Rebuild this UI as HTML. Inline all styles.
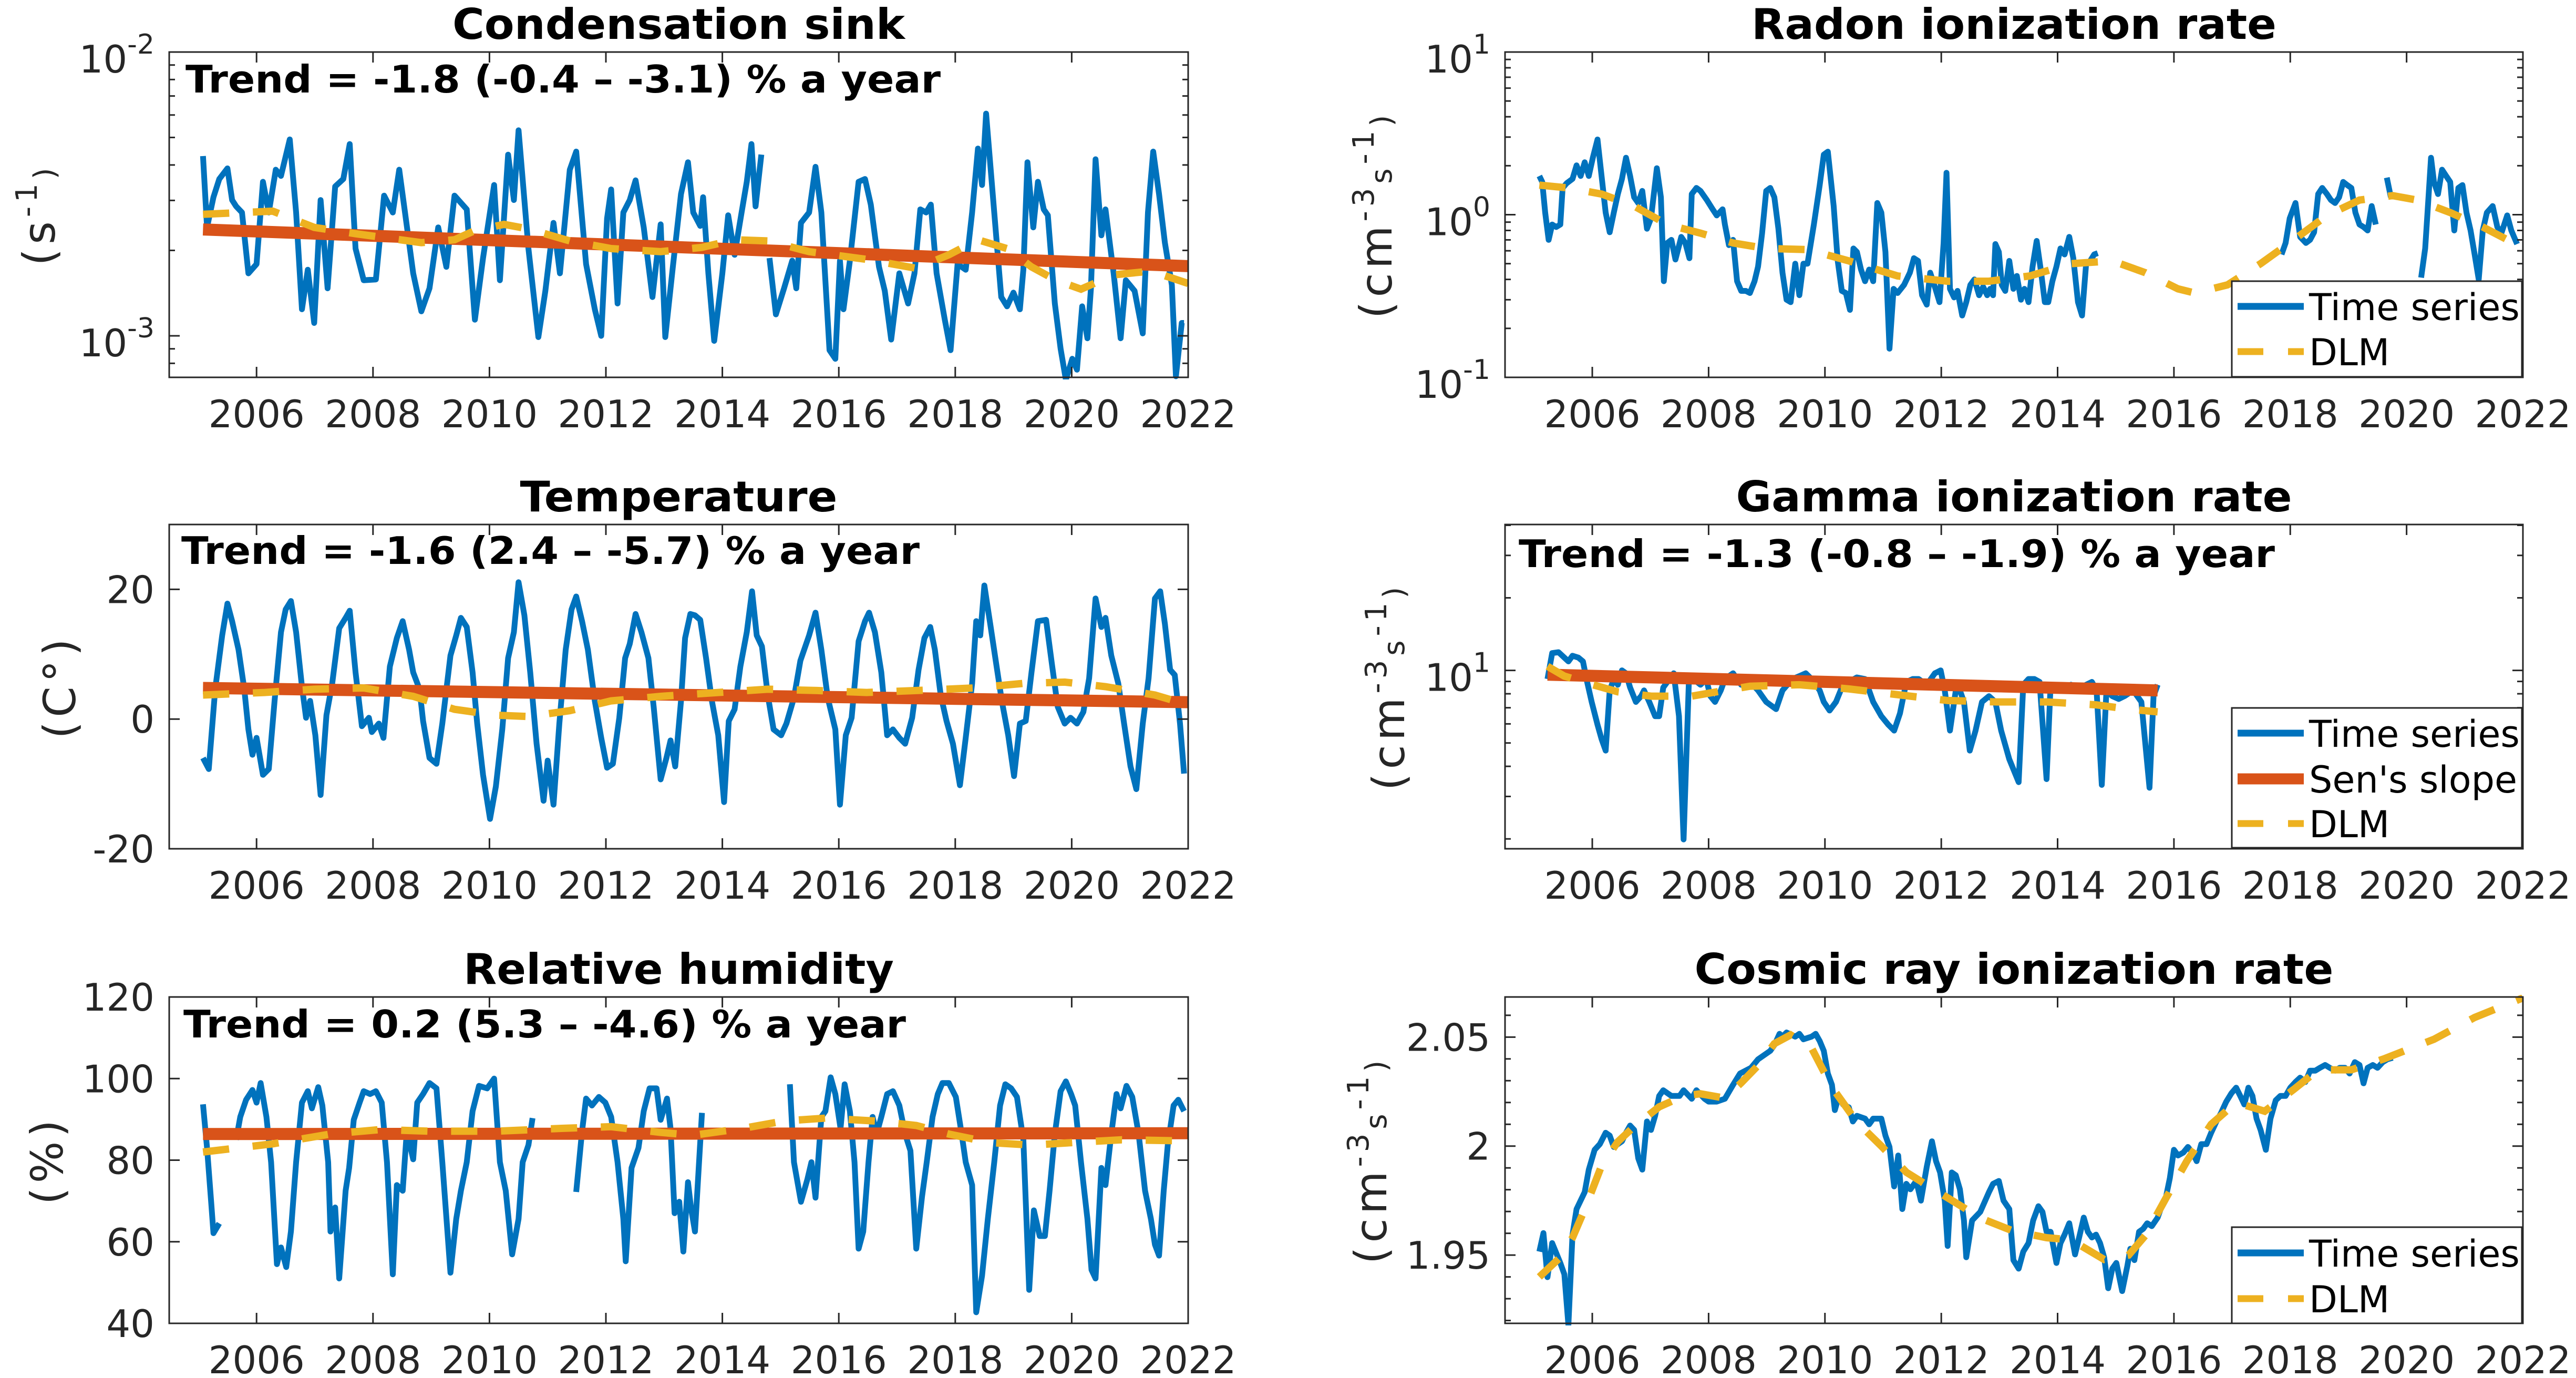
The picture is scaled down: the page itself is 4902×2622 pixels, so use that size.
<!DOCTYPE html>
<html><head><meta charset="utf-8"><style>
html,body{margin:0;padding:0;background:#fff;}
svg{display:block;}
</style></head><body>
<svg id="fig" xmlns="http://www.w3.org/2000/svg" width="4902" height="2622" viewBox="0 0 4902 2622">
<rect x="0" y="0" width="4902" height="2622" fill="#fff"/>
</svg>
<script>
// ---------------- DATA ----------------
const xTickYears = [2006,2008,2010,2012,2014,2016,2018,2020,2022];

// Condensation sink (values in units of 1e-3 s^-1)
const csYears = [2005.08,2005.15,2005.26,2005.36,2005.50,2005.58,2005.65,2005.75,2005.86,2006.00,2006.11,2006.21,2006.33,2006.42,2006.57,2006.68,2006.78,2006.88,2006.99,2007.10,2007.22,2007.35,2007.49,2007.60,2007.70,2007.84,2008.05,2008.19,2008.34,2008.45,2008.55,2008.69,2008.83,2008.97,2009.12,2009.26,2009.40,2009.61,2009.75,2009.89,2010.08,2010.18,2010.32,2010.42,2010.50,2010.67,2010.84,2010.96,2011.10,2011.21,2011.38,2011.49,2011.66,2011.81,2011.92,2012.02,2012.09,2012.20,2012.30,2012.41,2012.51,2012.65,2012.80,2012.94,2013.02,2013.15,2013.29,2013.41,2013.50,2013.62,2013.67,2013.76,2013.86,2014.00,2014.10,2014.21,2014.33,2014.42,2014.50,2014.57,2014.67,2014.74,2014.81,2014.92,2015.06,2015.20,2015.27,2015.35,2015.49,2015.60,2015.70,2015.84,2015.94,2016.02,2016.08,2016.19,2016.34,2016.45,2016.55,2016.69,2016.79,2016.90,2017.04,2017.19,2017.30,2017.40,2017.50,2017.58,2017.68,2017.82,2017.92,2018.04,2018.18,2018.29,2018.39,2018.46,2018.53,2018.67,2018.79,2018.89,2019.00,2019.11,2019.17,2019.24,2019.34,2019.42,2019.52,2019.59,2019.71,2019.81,2019.90,2020.01,2020.09,2020.18,2020.27,2020.33,2020.41,2020.51,2020.58,2020.72,2020.84,2020.93,2021.08,2021.22,2021.31,2021.40,2021.50,2021.60,2021.72,2021.79,2021.89,2021.93];
const csValues = [4.30,2.41,3.08,3.57,3.89,3.01,2.86,2.72,1.66,1.79,3.49,2.72,3.85,3.66,4.92,2.72,1.24,1.71,1.11,3.01,1.47,3.36,3.57,4.74,2.03,1.57,1.58,3.12,2.72,3.85,2.72,1.66,1.22,1.47,2.41,1.75,3.12,2.79,1.14,1.88,3.40,1.57,4.35,3.01,5.30,2.03,0.99,1.44,2.50,1.66,3.85,4.46,1.79,1.24,1.00,2.59,3.28,1.30,2.72,3.01,3.53,2.41,1.37,2.47,0.99,1.75,3.16,4.09,2.72,2.44,3.08,1.66,0.96,1.66,2.66,1.93,2.72,3.49,4.74,2.86,4.35,null,1.88,1.19,1.47,1.84,1.47,2.50,2.72,3.94,2.72,0.89,0.83,1.84,1.24,1.84,3.49,3.57,2.90,1.75,1.44,0.97,1.66,1.30,1.66,2.79,2.72,2.90,1.66,1.14,0.89,1.79,1.71,2.72,4.57,3.40,6.07,2.72,1.37,1.27,1.42,1.24,1.71,4.09,2.41,3.49,2.79,2.66,1.30,0.90,0.70,0.83,0.76,1.27,0.98,1.47,4.19,2.26,2.79,1.66,0.98,1.57,1.44,1.02,2.72,4.46,3.16,2.13,1.51,0.72,1.11,1.11];
const csSenYears = [2005.08,2022.0];
const csSenValues = [2.37,1.76];
const csDlmYears = [2005.08,2006.28,2006.99,2007.70,2008.83,2009.40,2009.75,2010.25,2010.67,2011.38,2012.09,2012.94,2013.65,2014.21,2014.78,2015.49,2016.48,2017.33,2017.89,2018.39,2018.89,2019.31,2019.73,2020.16,2020.72,2021.36,2022.0];
const csDlmValues = [2.68,2.75,2.41,2.29,2.13,2.18,2.35,2.47,2.38,2.16,2.03,1.98,2.05,2.18,2.16,1.98,1.86,1.73,1.93,2.18,2.03,1.75,1.57,1.46,1.64,1.69,1.53];

// Temperature (C)
const tYears = [2005.08,2005.18,2005.29,2005.41,2005.50,2005.58,2005.69,2005.79,2005.86,2005.93,2006.00,2006.11,2006.21,2006.31,2006.42,2006.50,2006.59,2006.68,2006.78,2006.85,2006.92,2007.01,2007.10,2007.20,2007.30,2007.42,2007.53,2007.60,2007.70,2007.81,2007.93,2007.98,2008.10,2008.18,2008.29,2008.41,2008.51,2008.62,2008.69,2008.80,2008.86,2008.97,2009.09,2009.19,2009.33,2009.43,2009.51,2009.61,2009.71,2009.79,2009.89,2010.01,2010.11,2010.22,2010.32,2010.42,2010.50,2010.60,2010.70,2010.81,2010.93,2011.00,2011.10,2011.20,2011.31,2011.41,2011.49,2011.59,2011.69,2011.81,2011.92,2012.02,2012.12,2012.23,2012.33,2012.41,2012.51,2012.61,2012.73,2012.82,2012.94,2013.04,2013.11,2013.19,2013.29,2013.36,2013.45,2013.53,2013.62,2013.72,2013.82,2013.93,2014.03,2014.11,2014.21,2014.31,2014.42,2014.51,2014.59,2014.68,2014.78,2014.88,2015.01,2015.10,2015.23,2015.34,2015.49,2015.60,2015.70,2015.81,2015.94,2016.02,2016.12,2016.22,2016.34,2016.45,2016.52,2016.62,2016.73,2016.83,2016.93,2017.04,2017.14,2017.26,2017.37,2017.47,2017.57,2017.65,2017.75,2017.85,2017.96,2018.08,2018.18,2018.29,2018.36,2018.43,2018.50,2018.60,2018.71,2018.80,2018.91,2019.01,2019.11,2019.21,2019.31,2019.42,2019.56,2019.66,2019.76,2019.88,2019.98,2020.09,2020.20,2020.30,2020.41,2020.51,2020.58,2020.68,2020.80,2020.90,2021.01,2021.11,2021.22,2021.32,2021.43,2021.52,2021.60,2021.69,2021.77,2021.86,2021.93];
const tValues = [-6.0,-7.7,4.6,12.9,17.8,15.1,10.7,4.6,-1.6,-5.5,-2.9,-8.6,-7.7,2.8,13.4,16.9,18.2,13.4,5.0,0.2,2.8,-2.5,-11.7,0.6,5.5,14.0,15.6,16.7,7.2,-1.1,0.2,-2.0,-0.7,-2.9,8.1,12.5,15.1,10.7,7.2,4.6,-0.3,-6.0,-6.9,-0.7,9.8,12.9,15.6,14.2,7.2,-0.7,-8.6,-15.4,-10.4,-1.6,9.4,13.4,21.1,16.0,7.2,-3.8,-12.6,-6.4,-13.2,-0.7,10.7,16.9,18.9,15.1,10.7,2.8,-2.9,-7.5,-6.9,0.2,9.4,11.6,16.2,13.4,9.4,1.9,-9.3,-6.0,-3.3,-7.3,2.8,12.5,16.2,16.0,15.3,9.4,2.8,-2.5,-12.8,-0.3,1.5,8.1,13.4,19.7,12.9,11.2,3.7,-1.6,-2.5,-0.7,3.3,9.0,12.9,16.4,10.7,3.3,-1.6,-13.2,-2.5,0.2,12.0,15.1,16.4,13.4,7.2,-2.5,-1.6,-2.9,-3.8,0.2,7.6,12.5,14.2,10.7,3.7,-0.3,-3.8,-10.2,-2.9,5.5,15.1,12.9,20.6,14.7,8.1,2.8,-2.5,-8.8,-0.7,-0.3,7.2,15.1,15.3,8.5,1.9,-0.7,0.2,-0.7,1.1,6.3,18.6,14.2,15.6,9.8,5.5,-0.7,-7.3,-10.8,-0.7,6.3,18.6,19.7,14.7,7.6,6.8,-0.7,-8.4];
const tSenYears = [2005.08,2022.0];
const tSenValues = [4.8,2.6];
const tDlmYears = [2005.08,2006.14,2006.99,2007.84,2008.69,2009.40,2010.11,2010.67,2011.38,2012.09,2012.94,2013.93,2014.78,2015.63,2016.48,2017.33,2018.32,2019.17,2019.88,2020.58,2021.43,2022.0];
const tDlmValues = [3.7,4.1,4.6,4.8,3.5,1.5,0.6,0.4,1.3,2.8,3.5,4.1,4.6,4.4,4.1,4.4,4.8,5.5,5.7,5.0,3.7,2.2];

// Relative humidity (%)
const rhYears = [2005.08,2005.15,2005.22,2005.26,2005.36,2005.50,2005.65,2005.72,2005.82,2005.93,2006.00,2006.07,2006.17,2006.25,2006.35,2006.42,2006.51,2006.59,2006.68,2006.78,2006.88,2006.95,2007.06,2007.13,2007.23,2007.27,2007.35,2007.42,2007.53,2007.59,2007.67,2007.77,2007.84,2007.95,2008.05,2008.15,2008.24,2008.34,2008.41,2008.51,2008.58,2008.69,2008.76,2008.86,2008.97,2009.09,2009.19,2009.33,2009.43,2009.51,2009.61,2009.71,2009.82,2009.96,2010.08,2010.18,2010.28,2010.39,2010.50,2010.57,2010.67,2010.74,2011.10,2011.49,2011.59,2011.66,2011.76,2011.88,2011.99,2012.09,2012.20,2012.30,2012.34,2012.44,2012.56,2012.65,2012.75,2012.87,2012.94,2013.05,2013.11,2013.18,2013.26,2013.33,2013.41,2013.46,2013.53,2013.65,2014.40,2015.16,2015.23,2015.35,2015.46,2015.53,2015.60,2015.70,2015.77,2015.86,2015.94,2016.03,2016.10,2016.19,2016.27,2016.34,2016.42,2016.51,2016.58,2016.65,2016.73,2016.83,2016.93,2017.04,2017.14,2017.23,2017.33,2017.43,2017.51,2017.61,2017.70,2017.78,2017.89,2018.01,2018.11,2018.18,2018.29,2018.36,2018.46,2018.56,2018.67,2018.77,2018.86,2018.96,2019.06,2019.17,2019.27,2019.35,2019.45,2019.54,2019.62,2019.71,2019.81,2019.90,2019.99,2020.06,2020.16,2020.27,2020.34,2020.41,2020.51,2020.58,2020.68,2020.77,2020.84,2020.94,2021.04,2021.15,2021.26,2021.36,2021.43,2021.50,2021.58,2021.65,2021.75,2021.83,2021.93];
const rhValues = [93.7,83.0,69.8,62.1,64.5,null,85.0,90.6,94.8,97.2,94.1,98.9,90.6,79.5,54.5,58.6,53.8,62.5,79.5,94.1,96.9,92.7,97.9,93.4,79.5,62.5,68.4,51.0,72.5,78.1,89.9,94.1,96.9,96.2,96.9,94.1,79.5,52.0,73.9,72.5,87.1,80.2,94.1,96.2,98.9,97.6,79.5,52.4,65.6,72.5,79.5,92.0,98.2,97.6,100.0,79.5,72.5,56.9,65.6,79.5,83.7,90.3,null,72.2,87.1,95.1,93.4,95.5,94.1,90.6,79.5,65.6,55.2,78.1,83.0,92.0,97.6,97.6,89.9,95.1,87.8,67.0,69.8,57.6,74.6,68.4,62.5,91.6,null,98.6,79.5,69.8,75.3,79.5,70.8,90.6,92.0,100.3,96.2,87.8,98.6,92.0,79.5,58.3,62.5,79.5,90.6,86.4,90.6,96.2,96.9,93.4,86.4,82.3,58.3,71.1,79.5,90.6,96.2,98.9,98.9,95.5,86.4,79.5,73.9,42.7,51.7,65.6,79.5,93.4,98.6,97.6,95.5,85.0,48.2,67.7,61.4,61.4,72.5,86.4,96.9,99.3,96.2,93.4,79.5,65.6,53.1,51.0,78.1,73.9,86.4,96.2,92.7,98.2,95.5,86.4,72.5,65.6,59.3,56.6,72.5,83.7,93.4,94.8,92.0];
const rhSenYears = [2005.08,2022.0];
const rhSenValues = [86.4,86.6];
const rhDlmYears = [2005.08,2006.28,2007.27,2008.12,2008.97,2010.11,2011.24,2012.09,2012.94,2013.50,2014.35,2015.06,2015.77,2016.62,2017.33,2017.89,2018.60,2019.31,2020.01,2020.86,2022.0];
const rhDlmValues = [82.0,84.0,86.4,87.5,87.1,87.1,87.8,88.2,86.8,86.1,87.8,89.6,90.3,89.6,88.5,86.4,84.3,83.7,84.3,85.0,84.7];

// Radon ionization rate (cm^-3 s^-1)
const rnYears = [2005.09,2005.14,2005.19,2005.25,2005.31,2005.38,2005.45,2005.49,2005.56,2005.66,2005.73,2005.80,2005.87,2005.94,2006.01,2006.09,2006.16,2006.23,2006.30,2006.37,2006.44,2006.51,2006.58,2006.65,2006.72,2006.79,2006.86,2006.94,2007.01,2007.11,2007.18,2007.23,2007.29,2007.36,2007.43,2007.53,2007.60,2007.67,2007.71,2007.79,2007.86,2007.97,2008.07,2008.14,2008.24,2008.28,2008.35,2008.42,2008.49,2008.56,2008.64,2008.71,2008.79,2008.85,2008.92,2008.99,2009.06,2009.13,2009.20,2009.27,2009.34,2009.41,2009.49,2009.56,2009.63,2009.70,2009.81,2009.91,2009.98,2010.05,2010.15,2010.22,2010.29,2010.36,2010.43,2010.49,2010.55,2010.62,2010.69,2010.76,2010.83,2010.90,2010.97,2011.04,2011.11,2011.18,2011.25,2011.36,2011.46,2011.53,2011.60,2011.67,2011.75,2011.81,2011.90,2011.97,2012.04,2012.09,2012.15,2012.22,2012.28,2012.36,2012.43,2012.50,2012.57,2012.65,2012.72,2012.79,2012.84,2012.89,2012.93,2012.99,2013.04,2013.10,2013.17,2013.24,2013.30,2013.37,2013.43,2013.50,2013.57,2013.64,2013.71,2013.78,2013.84,2013.91,2013.98,2014.05,2014.12,2014.20,2014.27,2014.35,2014.42,2014.49,2014.56,2014.63,2014.69,2016.3,2017.85,2017.92,2017.99,2018.09,2018.17,2018.27,2018.34,2018.41,2018.48,2018.55,2018.63,2018.70,2018.77,2018.84,2018.91,2018.98,2019.05,2019.12,2019.19,2019.26,2019.33,2019.40,2019.47,2019.57,2019.66,2019.73,2020.0,2020.25,2020.32,2020.38,2020.42,2020.47,2020.54,2020.61,2020.68,2020.75,2020.82,2020.89,2020.96,2021.03,2021.10,2021.17,2021.24,2021.31,2021.38,2021.48,2021.56,2021.63,2021.73,2021.80,2021.90];
const rnValues = [1.73,1.59,1.03,0.70,0.87,0.84,0.87,1.46,1.56,1.66,2.01,1.73,2.10,1.73,2.24,2.90,1.73,1.03,0.78,1.03,1.34,1.66,2.24,1.73,1.28,1.18,1.40,0.82,0.95,1.93,1.28,0.39,0.67,0.70,0.53,0.73,0.67,0.54,1.34,1.46,1.40,1.23,1.08,0.99,1.08,0.87,0.65,0.70,0.39,0.34,0.34,0.33,0.39,0.48,0.77,1.40,1.46,1.28,0.82,0.44,0.30,0.29,0.50,0.32,0.50,0.50,0.87,1.52,2.34,2.44,1.13,0.52,0.34,0.33,0.26,0.62,0.59,0.46,0.39,0.46,0.39,1.18,1.03,0.59,0.15,0.35,0.33,0.37,0.44,0.54,0.52,0.32,0.28,0.44,0.35,0.29,0.67,1.81,0.35,0.31,0.34,0.24,0.29,0.37,0.40,0.32,0.36,0.32,0.35,0.32,0.66,0.59,0.37,0.34,0.52,0.35,0.42,0.30,0.35,0.29,0.48,0.69,0.46,0.29,0.29,0.39,0.48,0.62,0.57,0.73,0.54,0.29,0.24,0.50,0.52,0.57,0.58,null,0.57,0.67,0.95,1.18,0.73,0.67,0.70,0.78,1.34,1.46,1.34,1.23,1.18,1.28,1.59,1.52,1.46,1.03,0.87,0.84,0.80,1.13,0.87,null,1.69,1.28,null,0.41,0.62,1.34,2.24,1.59,1.34,1.89,1.73,1.59,0.80,1.46,1.52,1.03,0.80,0.57,0.40,0.80,1.03,1.13,0.84,0.77,0.99,0.80,0.66];
const rnDlmYears = [2005.09,2005.59,2006.16,2006.72,2007.29,2007.86,2008.42,2008.99,2009.70,2010.41,2011.25,2012.11,2012.82,2013.52,2014.23,2014.94,2015.51,2016.07,2016.36,2016.92,2017.49,2018.06,2018.63,2019.19,2019.76,2020.18,2020.75,2021.31,2021.91];
const rnDlmValues = [1.52,1.46,1.34,1.13,0.87,0.77,0.67,0.62,0.61,0.52,0.42,0.39,0.39,0.42,0.50,0.52,0.44,0.35,0.33,0.37,0.50,0.70,0.99,1.23,1.31,1.23,1.03,0.84,0.65];

// Gamma ionization rate (cm^-3 s^-1)
const gmYears = [2005.23,2005.31,2005.42,2005.52,2005.59,2005.66,2005.76,2005.84,2005.90,2005.99,2006.09,2006.16,2006.23,2006.30,2006.37,2006.44,2006.51,2006.58,2006.65,2006.75,2006.84,2006.89,2006.98,2007.08,2007.15,2007.22,2007.29,2007.40,2007.49,2007.57,2007.66,2007.74,2007.86,2007.96,2008.03,2008.11,2008.21,2008.28,2008.42,2008.56,2008.71,2008.85,2008.99,2009.16,2009.27,2009.44,2009.56,2009.67,2009.77,2009.91,2009.98,2010.08,2010.19,2010.29,2010.41,2010.55,2010.69,2010.83,2010.97,2011.09,2011.19,2011.29,2011.40,2011.51,2011.61,2011.75,2011.89,2011.99,2012.06,2012.15,2012.25,2012.32,2012.39,2012.49,2012.59,2012.70,2012.82,2012.93,2013.03,2013.17,2013.33,2013.41,2013.50,2013.60,2013.69,2013.81,2013.88,2013.95,2014.09,2014.23,2014.37,2014.49,2014.59,2014.67,2014.76,2014.84,2014.94,2015.05,2015.15,2015.30,2015.44,2015.58,2015.65,2015.72];
const gmValues = [9.21,11.8,11.9,11.3,10.9,11.5,11.3,10.9,9.21,7.40,5.95,5.19,4.65,8.26,9.21,8.72,10.0,9.73,8.49,7.40,7.82,8.26,7.40,6.46,6.46,8.49,8.96,9.73,6.46,1.99,8.96,9.21,8.72,9.21,7.82,7.40,8.26,9.21,9.73,8.72,8.96,8.26,7.40,6.91,8.26,9.21,9.47,9.73,9.21,8.26,7.40,6.82,7.40,8.49,8.96,9.35,9.21,7.40,6.46,5.95,5.63,6.64,8.96,9.21,9.21,8.72,9.73,10.0,8.26,5.63,8.26,8.26,7.40,4.65,5.63,7.40,7.82,7.40,5.63,4.28,3.44,8.72,9.21,9.21,8.96,3.54,8.72,8.26,8.26,8.72,8.26,8.72,8.96,8.26,3.35,8.26,7.82,7.61,7.82,8.26,7.40,3.26,7.82,8.72];
const gmSenYears = [2005.23,2015.72];
const gmSenValues = [9.60,8.26];
const gmDlmYears = [2005.23,2005.52,2006.01,2006.44,2007.01,2007.71,2008.14,2008.71,2009.56,2010.41,2011.25,2012.11,2012.96,2013.81,2014.66,2015.22,2015.72];
const gmDlmValues = [10.4,9.47,8.72,8.15,7.82,7.82,8.15,8.60,8.72,8.38,7.93,7.50,7.40,7.40,7.20,6.91,6.73];

// Cosmic ray ionization rate (cm^-3 s^-1)
const crYears = [2005.09,2005.16,2005.23,2005.31,2005.45,2005.52,2005.59,2005.66,2005.73,2005.87,2005.94,2006.04,2006.13,2006.23,2006.30,2006.37,2006.51,2006.58,2006.65,2006.72,2006.79,2006.86,2006.94,2007.01,2007.08,2007.15,2007.22,2007.36,2007.50,2007.57,2007.71,2007.79,2007.93,2008.00,2008.14,2008.28,2008.42,2008.54,2008.73,2008.85,2009.06,2009.13,2009.22,2009.27,2009.34,2009.49,2009.56,2009.63,2009.77,2009.84,2009.91,2009.98,2010.05,2010.12,2010.17,2010.24,2010.31,2010.41,2010.48,2010.55,2010.69,2010.76,2010.83,2010.97,2011.04,2011.11,2011.19,2011.26,2011.33,2011.40,2011.47,2011.57,2011.65,2011.75,2011.84,2011.91,2011.98,2012.06,2012.11,2012.18,2012.25,2012.32,2012.39,2012.43,2012.53,2012.67,2012.82,2012.89,2012.99,2013.07,2013.17,2013.24,2013.33,2013.41,2013.50,2013.58,2013.67,2013.74,2013.81,2013.88,2013.98,2014.05,2014.12,2014.20,2014.30,2014.37,2014.45,2014.52,2014.59,2014.66,2014.73,2014.80,2014.87,2014.94,2015.01,2015.11,2015.20,2015.25,2015.32,2015.40,2015.47,2015.54,2015.62,2015.72,2015.79,2015.86,2015.93,2016.00,2016.07,2016.16,2016.24,2016.32,2016.39,2016.47,2016.56,2016.64,2016.73,2016.81,2016.90,2016.99,2017.07,2017.14,2017.21,2017.28,2017.35,2017.42,2017.49,2017.58,2017.66,2017.75,2017.83,2017.92,2018.00,2018.09,2018.17,2018.26,2018.34,2018.43,2018.51,2018.60,2018.68,2018.77,2018.85,2018.94,2019.02,2019.11,2019.19,2019.26,2019.33,2019.42,2019.50,2019.59,2019.67,2019.76];
const crValues = [1.9516,1.9601,1.9399,1.9555,1.9464,1.9412,1.9179,1.9594,1.9711,1.9789,1.9892,1.9983,2.0009,2.0061,2.0048,1.9996,2.0022,2.0061,2.0094,2.0074,1.9944,1.9892,2.0113,2.0074,2.0139,2.0230,2.0256,2.0230,2.0230,2.0256,2.0217,2.0256,2.0217,2.0204,2.0204,2.0217,2.0281,2.0333,2.0359,2.0398,2.0437,2.0463,2.0515,2.0502,2.0521,2.0502,2.0515,2.0490,2.0502,2.0515,2.0482,2.0437,2.0333,2.0281,2.0165,2.0230,2.0191,2.0178,2.0113,2.0139,2.0126,2.0100,2.0126,2.0126,2.0048,1.9996,1.9815,1.9957,1.9711,1.9827,1.9802,1.9840,1.9750,1.9905,2.0022,1.9931,1.9879,1.9750,1.9542,1.9879,1.9866,1.9802,1.9659,1.9490,1.9659,1.9698,1.9789,1.9827,1.9840,1.9750,1.9711,1.9477,1.9438,1.9516,1.9555,1.9659,1.9724,1.9698,1.9607,1.9607,1.9464,1.9555,1.9594,1.9646,1.9503,1.9581,1.9672,1.9607,1.9581,1.9594,1.9555,1.9490,1.9348,1.9438,1.9464,1.9335,1.9451,1.9529,1.9477,1.9607,1.9620,1.9646,1.9633,1.9672,1.9724,1.9763,1.9853,1.9983,1.9957,1.9970,1.9996,1.9970,1.9931,2.0009,2.0009,2.0061,2.0113,2.0152,2.0204,2.0243,2.0268,2.0230,2.0191,2.0268,2.0230,2.0126,2.0074,1.9983,2.0126,2.0210,2.0230,2.0230,2.0268,2.0294,2.0314,2.0294,2.0346,2.0346,2.0359,2.0372,2.0359,2.0346,2.0359,2.0359,2.0333,2.0385,2.0372,2.0288,2.0359,2.0372,2.0359,2.0385,2.0398,2.0405];
const crDlmYears = [2005.09,2005.45,2005.66,2005.87,2006.16,2006.44,2006.72,2007.15,2007.57,2007.86,2008.28,2008.56,2008.85,2009.13,2009.41,2009.77,2010.12,2010.55,2010.97,2011.40,2011.82,2012.25,2012.67,2013.24,2013.81,2014.23,2014.80,2015.22,2015.51,2015.86,2016.22,2016.64,2017.07,2017.56,2018.06,2018.48,2019.05,2019.61,2020.47,2021.17,2022.0];
const crDlmValues = [1.940,1.949,1.958,1.971,1.991,2.002,2.009,2.018,2.023,2.024,2.022,2.029,2.037,2.047,2.051,2.045,2.027,2.011,2.000,1.988,1.981,1.974,1.967,1.961,1.958,1.957,1.948,1.950,1.959,1.976,1.993,2.010,2.020,2.016,2.026,2.035,2.035,2.040,2.049,2.059,2.068];

// ---------------- DRAWING ----------------
const NS = 'http://www.w3.org/2000/svg';
const svg = document.getElementById('fig');
const X_MIN = 2004.5, X_MAX = 2022;
const BLUE = '#0072BD', ORANGE = '#D95319', YELLOW = '#EDB120', AX = '#262626';
const FONT = '"DejaVu Sans","Liberation Sans",sans-serif';

function el(tag, attrs, parent) {
  const e = document.createElementNS(NS, tag);
  for (const k in attrs) e.setAttribute(k, attrs[k]);
  (parent || svg).appendChild(e);
  return e;
}
function makeX(p) { return t => p.x0 + (t - X_MIN) / (X_MAX - X_MIN) * (p.x1 - p.x0); }
function makeY(p) {
  if (p.log) {
    const a = Math.log10(p.ymin), b = Math.log10(p.ymax);
    return v => p.y1 - (Math.log10(v) - a) / (b - a) * (p.y1 - p.y0);
  }
  return v => p.y1 - (v - p.ymin) / (p.ymax - p.ymin) * (p.y1 - p.y0);
}
function pathD(xs, ys, sx, sy) {
  let d = '', pen = false;
  for (let i = 0; i < xs.length; i++) {
    if (ys[i] === null || ys[i] === undefined) { pen = false; continue; }
    d += (pen ? 'L' : 'M') + sx(xs[i]).toFixed(1) + ',' + sy(ys[i]).toFixed(1);
    pen = true;
  }
  return d;
}
let clipId = 0;
function panel(p) {
  const g = el('g', {});
  
  
  const sx = makeX(p), sy = makeY(p);
  const cid = 'clip' + (clipId++);
  const cp = el('clipPath', {id: cid}, g);
  el('rect', {x: p.x0, y: p.y0 - 4, width: p.x1 - p.x0, height: p.y1 - p.y0 + 8}, cp);
  el('rect', {x: p.x0, y: p.y0, width: p.x1 - p.x0, height: p.y1 - p.y0, fill: '#fff'}, g);
  const plot = el('g', {'clip-path': 'url(#' + cid + ')'}, g);
  const ts = el('path', {d: pathD(p.tx, p.ty, sx, sy), fill: 'none', stroke: BLUE, 'stroke-width': 11, 'stroke-linejoin': 'round'}, plot);
  
  
  if (p.senx) {
    const sn = el('path', {d: pathD(p.senx, p.seny, sx, sy), fill: 'none', stroke: ORANGE, 'stroke-width': 23}, plot);
    
    
  }
  const dl = el('path', {d: pathD(p.dx, p.dy, sx, sy), fill: 'none', stroke: YELLOW, 'stroke-width': 14, 'stroke-dasharray': '50 45'}, plot);
  
  
  const box = el('rect', {x: p.x0, y: p.y0, width: p.x1 - p.x0, height: p.y1 - p.y0, fill: 'none', stroke: AX, 'stroke-width': 3}, g);
  
  
  xTickYears.forEach(yr => {
    const x = sx(yr);
    el('line', {x1: x, x2: x, y1: p.y1, y2: p.y1 - 20, stroke: AX, 'stroke-width': 3}, g);
    el('line', {x1: x, x2: x, y1: p.y0, y2: p.y0 + 20, stroke: AX, 'stroke-width': 3}, g);
    const t = el('text', {x: x, y: p.y1 + 95, 'text-anchor': 'middle', 'font-family': FONT, 'font-size': 72, fill: AX}, g);
    t.textContent = String(yr);
    
    
  });
  (p.minor || []).forEach(v => {
    const y = sy(v);
    el('line', {x1: p.x0, x2: p.x0 + 11, y1: y, y2: y, stroke: AX, 'stroke-width': 3}, g);
    el('line', {x1: p.x1, x2: p.x1 - 11, y1: y, y2: y, stroke: AX, 'stroke-width': 3}, g);
  });
  p.major.forEach((v, i) => {
    const y = sy(v);
    el('line', {x1: p.x0, x2: p.x0 + 20, y1: y, y2: y, stroke: AX, 'stroke-width': 3}, g);
    el('line', {x1: p.x1, x2: p.x1 - 20, y1: y, y2: y, stroke: AX, 'stroke-width': 3}, g);
    const lab = p.labels[i];
    if (lab === '') return;
    const t = el('text', {x: p.x0 - 28, y: y + (Array.isArray(lab) ? 39 : 26), 'text-anchor': 'end', 'font-family': FONT, 'font-size': 72, fill: AX}, g);
    if (Array.isArray(lab)) {
      const a = el('tspan', {}, t); a.textContent = lab[0];
      const b = el('tspan', {dy: -36, 'font-size': 52}, t); b.textContent = lab[1];
    } else t.textContent = lab;
    
    
  });
  const tt = el('text', {x: (p.x0 + p.x1) / 2, y: p.y0 - 25, 'text-anchor': 'middle', 'font-family': FONT, 'font-weight': 'bold', 'font-size': 80, fill: '#000', textLength: p.titleW, lengthAdjust: 'spacingAndGlyphs'}, g);
  tt.textContent = p.title;
  
  
  const yl = el('text', {transform: 'translate(' + p.ylx + ',' + ((p.y0 + p.y1) / 2) + ') rotate(-90)', 'text-anchor': 'middle', 'font-family': FONT, 'font-size': 84, 'letter-spacing': 8, fill: AX}, g);
  p.ylabel.forEach(part => {
    const s = el('tspan', part[1] ? {'font-size': 56, dy: part[1]} : {}, yl);
    s.textContent = part[0];
  });
  
  
  if (p.trend) {
    const tr = el('text', {x: p.trend[1], y: p.trend[2], 'font-family': FONT, 'font-weight': 'bold', 'font-size': 72, fill: '#000', textLength: p.trend[3], lengthAdjust: 'spacingAndGlyphs'}, g);
    tr.textContent = p.trend[0];
    
    
  }
  if (p.legend) {
    const L = p.legend;
    const lg = el('g', {}, g);
    
    
    el('rect', {x: 4247, y: L.y0, width: 552, height: L.y1 - L.y0, fill: '#fff', stroke: AX, 'stroke-width': 3}, lg);
    L.items.forEach(it => {
      const e = el('g', {}, lg);
      
      
      const attrs = {x1: 4258, x2: 4384, y1: it.y, y2: it.y, stroke: it.c, 'stroke-width': it.w};
      if (it.dash) attrs['stroke-dasharray'] = '49 47';
      el('line', attrs, e);
      const t = el('text', {x: 4394, y: it.y + 26, 'font-family': FONT, 'font-size': 70, fill: '#000'}, e);
      t.textContent = it.label;
    });
  }
}

const LX0 = 322, LX1 = 2261, RX0 = 2864, RX1 = 4801;
const R1 = [99, 718], R2 = [998, 1615], R3 = [1897, 2518];

panel({name: 'condensation-sink', x0: LX0, x1: LX1, y0: R1[0], y1: R1[1], log: true, ymin: 0.714, ymax: 10,
  tx: csYears, ty: csValues, senx: csSenYears, seny: csSenValues, dx: csDlmYears, dy: csDlmValues,
  major: [1, 10], labels: [['10', '-3'], ['10', '-2']], minor: [0.8, 0.9, 2, 3, 4, 5, 6, 7, 8, 9],
  title: 'Condensation sink', titleW: 861, ylx: 104, ylabel: [['(s'], ['-1', -34], [')', 34]],
  trend: ['Trend = -1.8 (-0.4 – -3.1) % a year', 353, 176, 1437]});

panel({name: 'temperature', x0: LX0, x1: LX1, y0: R2[0], y1: R2[1], log: false, ymin: -20, ymax: 30,
  tx: tYears, ty: tValues, senx: tSenYears, seny: tSenValues, dx: tDlmYears, dy: tDlmValues,
  major: [-20, 0, 20], labels: ['-20', '0', '20'],
  title: 'Temperature', titleW: 604, ylx: 143, ylabel: [['(C°)']],
  trend: ['Trend = -1.6 (2.4 – -5.7) % a year', 345, 1073, 1405]});

panel({name: 'relative-humidity', x0: LX0, x1: LX1, y0: R3[0], y1: R3[1], log: false, ymin: 40, ymax: 120,
  tx: rhYears, ty: rhValues, senx: rhSenYears, seny: rhSenValues, dx: rhDlmYears, dy: rhDlmValues,
  major: [40, 60, 80, 100, 120], labels: ['40', '60', '80', '100', '120'],
  title: 'Relative humidity', titleW: 819, ylx: 119, ylabel: [['(%)']],
  trend: ['Trend = 0.2 (5.3 – -4.6) % a year', 349, 1974, 1375]});

panel({name: 'radon-ionization', x0: RX0, x1: RX1, y0: R1[0], y1: R1[1], log: true, ymin: 0.1, ymax: 10,
  tx: rnYears, ty: rnValues, dx: rnDlmYears, dy: rnDlmValues,
  major: [0.1, 1, 10], labels: [['10', '-1'], ['10', '0'], ['10', '1']], minor: [0.2, 0.3, 0.4, 0.5, 0.6, 0.7, 0.8, 0.9, 2, 3, 4, 5, 6, 7, 8, 9],
  title: 'Radon ionization rate', titleW: 999, ylx: 2648, ylabel: [['(cm'], ['-3', -34], ['s', 34], ['-1', -34], [')', 34]],
  legend: {y0: 535, y1: 717, items: [{label: 'Time series', y: 583, c: BLUE, w: 13}, {label: 'DLM', y: 669, c: YELLOW, w: 13, dash: true}]}});

panel({name: 'gamma-ionization', x0: RX0, x1: RX1, y0: R2[0], y1: R2[1], log: true, ymin: 1.82, ymax: 40.3,
  tx: gmYears, ty: gmValues, senx: gmSenYears, seny: gmSenValues, dx: gmDlmYears, dy: gmDlmValues,
  major: [10], labels: [['10', '1']], minor: [2, 3, 4, 5, 6, 7, 8, 9, 20, 30, 40],
  title: 'Gamma ionization rate', titleW: 1058, ylx: 2672, ylabel: [['(cm'], ['-3', -34], ['s', 34], ['-1', -34], [')', 34]],
  trend: ['Trend = -1.3 (-0.8 – -1.9) % a year', 2890, 1079, 1439],
  legend: {y0: 1347, y1: 1613, items: [{label: 'Time series', y: 1395, c: BLUE, w: 13}, {label: "Sen's slope", y: 1482, c: ORANGE, w: 21}, {label: 'DLM', y: 1567, c: YELLOW, w: 13, dash: true}]}});

panel({name: 'cosmic-ray-ionization', x0: RX0, x1: RX1, y0: R3[0], y1: R3[1], log: false, ymin: 1.9187, ymax: 2.0684,
  tx: crYears, ty: crValues, dx: crDlmYears, dy: crDlmValues,
  major: [1.95, 2, 2.05], labels: ['1.95', '2', '2.05'], minor: [1.92, 1.93, 1.94, 1.96, 1.97, 1.98, 1.99, 2.01, 2.02, 2.03, 2.04, 2.06],
  title: 'Cosmic ray ionization rate', titleW: 1216, ylx: 2638, ylabel: [['(cm'], ['-3', -34], ['s', 34], ['-1', -34], [')', 34]],
  legend: {y0: 2335, y1: 2518, items: [{label: 'Time series', y: 2384, c: BLUE, w: 13}, {label: 'DLM', y: 669 + 1802, c: YELLOW, w: 13, dash: true}]}});
</script>
</body></html>
